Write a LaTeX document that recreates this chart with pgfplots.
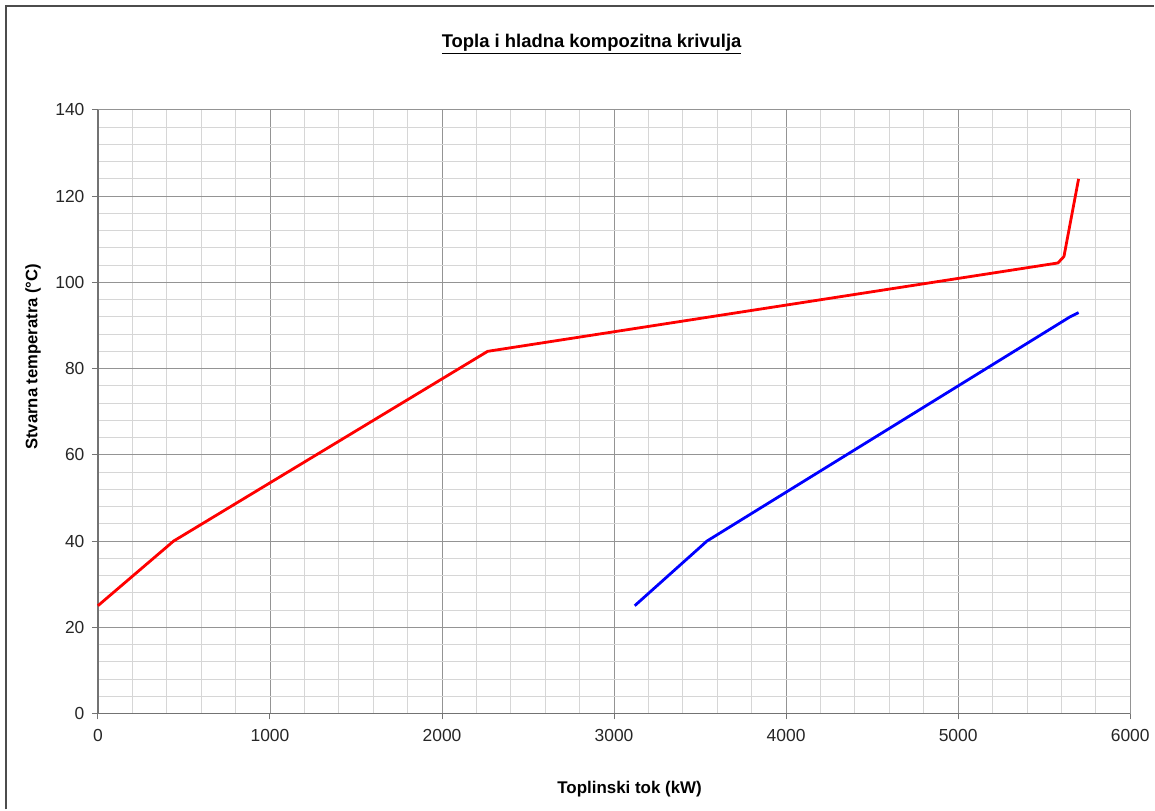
\documentclass[border=0pt]{standalone}
\usepackage{fontspec}
\setmainfont{Liberation Sans}
\usepackage{pgfplots}
\pgfplotsset{compat=1.18}

% hot and cold composite curves
\pgfplotstableread{
x     T
0     25
440   40
2265  84
5580  104.5
5615  106
5700  124
}\hot
\pgfplotstableread{
x     T
3120  25
3540  40
5650  92
5700  93
}\cold

\begin{document}
\begin{tikzpicture}[x=1bp,y=1bp]
\path (0,0) rectangle (1155,810);
\draw[line width=1.6bp, black!70] (6,0) -- (6,804) -- (1155,804);
\begin{axis}[
    at={(98bp,96bp)}, anchor=south west,
    scale only axis, width=1033bp, height=604bp,
    xmin=0, xmax=6000, ymin=0, ymax=140,
    xtick distance=1000, ytick distance=20,
    minor x tick num=4, minor y tick num=4,
    grid=both,
    major grid style={black!42, line width=0.9bp},
    minor grid style={black!16, line width=0.9bp},
    axis lines=left,
    axis line style={-, black!55, line width=1.2bp},
    tick align=outside,
    major tick length=6bp, minor tick length=0bp,
    tick style={black!55, line width=1bp},
    /pgf/number format/assume math mode=true,
    /pgf/number format/set thousands separator={},
    tick label style={font=\fontsize{17.5}{20}\selectfont, text=black!85},
    xticklabel style={yshift=-6bp},
    yticklabel style={xshift=-4bp},
    clip=false,
]
\addplot[red, line width=2.8bp, line join=round] table[x=x, y=T] {\hot};
\addplot[blue, line width=2.8bp, line join=round] table[x=x, y=T] {\cold};
\end{axis}
\node[anchor=base, font=\bfseries\fontsize{18.5}{20}\selectfont] at (592,762)
    {\underline{Topla i hladna kompozitna krivulja}};
\node[anchor=center, font=\bfseries\fontsize{17}{19}\selectfont] at (630,20)
    {Toplinski tok (kW)};
\node[anchor=center, rotate=90, font=\bfseries\fontsize{16.7}{19}\selectfont] at (33,453)
    {Stvarna temperatra (°C)};
\end{tikzpicture}
\end{document}
